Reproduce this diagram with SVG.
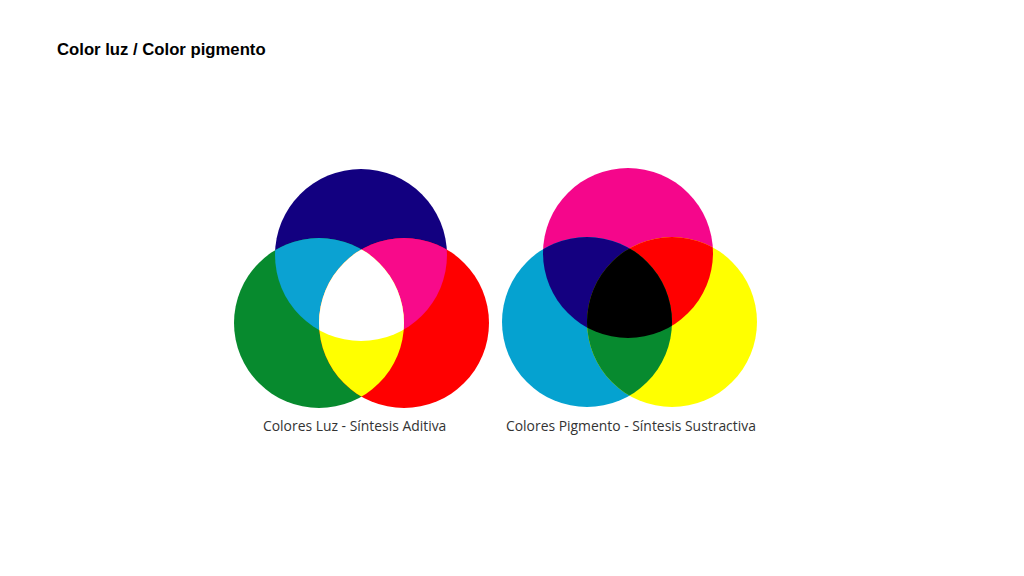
<svg xmlns="http://www.w3.org/2000/svg" width="1024" height="576" viewBox="0 0 1024 576">
<style>
.title{font-family:"Liberation Sans",Arial,sans-serif;font-weight:bold;font-size:16.7px;fill:#000}
.cap{font-family:"Open Sans","Liberation Sans",sans-serif;font-size:13.9px;fill:#333}
</style>
<defs>
<clipPath id="cB"><circle cx="361" cy="255" r="86"/></clipPath>
<clipPath id="cG"><circle cx="319" cy="323" r="85"/></clipPath>
<clipPath id="cR"><circle cx="404" cy="323" r="85"/></clipPath>
<clipPath id="cM"><circle cx="628" cy="253" r="85"/></clipPath>
<clipPath id="cC"><circle cx="587" cy="322" r="85"/></clipPath>
<clipPath id="cY"><circle cx="672" cy="322" r="85"/></clipPath>
</defs>
<rect width="1024" height="576" fill="#fff"/>
<text class="title" x="57" y="55">Color luz / Color pigmento</text>
<g id="luz">
<circle cx="361" cy="255" r="86" fill="#120080"/>
<circle cx="319" cy="323" r="85" fill="#078a2e"/>
<circle cx="404" cy="323" r="85" fill="#ff0000"/>
<circle cx="319" cy="323" r="85" fill="#0ba2d2" clip-path="url(#cB)"/>
<circle cx="404" cy="323" r="85" fill="#f80a8a" clip-path="url(#cB)"/>
<circle cx="404" cy="323" r="85" fill="#ffff00" clip-path="url(#cG)"/>
<g clip-path="url(#cB)"><circle cx="404" cy="323" r="85" fill="#ffffff" clip-path="url(#cG)"/></g>
<text class="cap" x="263" y="431">Colores Luz - Síntesis Aditiva</text>
</g>
<g id="pigmento">
<circle cx="628" cy="253" r="85" fill="#f5068b"/>
<circle cx="587" cy="322" r="85" fill="#05a2d0"/>
<circle cx="672" cy="322" r="85" fill="#ffff00"/>
<circle cx="587" cy="322" r="85" fill="#140080" clip-path="url(#cM)"/>
<circle cx="672" cy="322" r="85" fill="#ff0000" clip-path="url(#cM)"/>
<circle cx="672" cy="322" r="85" fill="#078a2f" clip-path="url(#cC)"/>
<g clip-path="url(#cM)"><circle cx="672" cy="322" r="85" fill="#000000" clip-path="url(#cC)"/></g>
<text class="cap" x="506" y="431">Colores Pigmento - Síntesis Sustractiva</text>
</g>
<g id="connectors"/>
</svg>
